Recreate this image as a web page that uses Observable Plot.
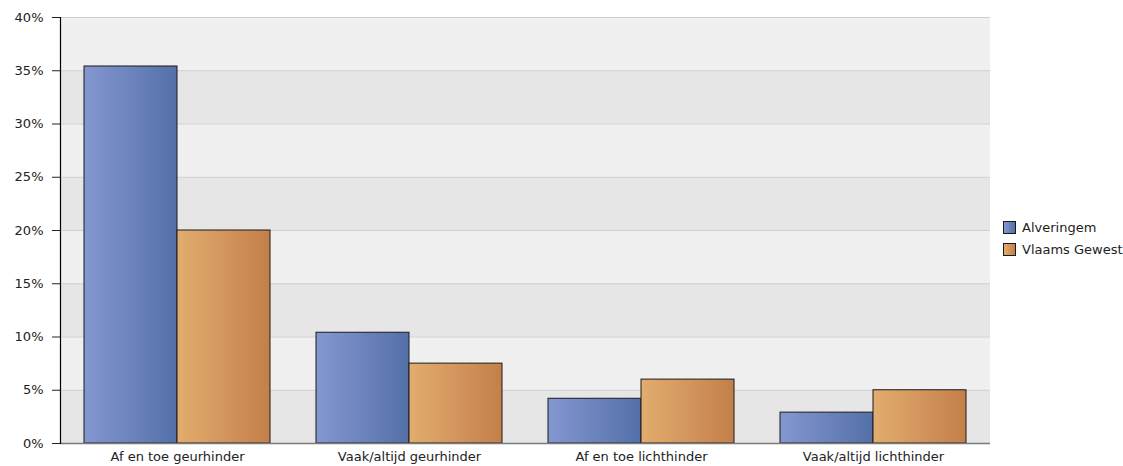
<!DOCTYPE html>
<html>
<head>
<meta charset="utf-8">
<script src="https://cdn.jsdelivr.net/npm/d3@7"></script>
<script src="https://cdn.jsdelivr.net/npm/@observablehq/plot@0.6"></script>
<style>
  html, body { margin: 0; padding: 0; background: #fff; }
  #wrap { position: relative; width: 1123px; height: 466px; font-family: "DejaVu Sans", sans-serif; }
  #wrap svg text { font-size: 13px; }
  .legend { position: absolute; left: 1003px; top: 216px; font-size: 13px; color: #222; }
  .legend .item { display: flex; align-items: center; height: 22px; }
  .legend .sw { width: 11px; height: 11px; border: 1.5px solid #1a1a1a; margin-right: 6px; }
</style>
</head>
<body>
<div id="wrap"></div>
<script>
const categories = ["Af en toe geurhinder", "Vaak/altijd geurhinder", "Af en toe lichthinder", "Vaak/altijd lichthinder"];
const series = ["Alveringem", "Vlaams Gewest"];
const alveringem = [35.4, 10.4, 4.2, 2.9];
const vlaamsGewest = [20.0, 7.5, 6.0, 5.0];
const yTicks = [0, 5, 10, 15, 20, 25, 30, 35, 40];

const gradients = {
  "Alveringem": ["gradA", "#8497d1", "#5470a8"],
  "Vlaams Gewest": ["gradB", "#e2ad6f", "#c47f49"]
};

const rows = [];
categories.forEach((c, i) => {
  rows.push({category: c, series: series[0], value: alveringem[i]});
  rows.push({category: c, series: series[1], value: vlaamsGewest[i]});
});

const bands = yTicks.slice(0, -1).map((t, i) => ({y1: t, y2: yTicks[i + 1], fill: i % 2 === 0 ? "#e6e6e6" : "#f0f0f0"}));

const halfInset = 93;

const chart = Plot.plot({
  width: 1123,
  height: 466,
  marginLeft: 60,
  marginRight: 133,
  marginTop: 17,
  marginBottom: 23,
  style: {fontFamily: "'DejaVu Sans', sans-serif", fontSize: "13px", color: "#222", background: "transparent"},
  x: {domain: categories, paddingInner: 0.2, paddingOuter: 0.1, label: null, tickSize: 0, tickPadding: 8},
  y: {domain: [0, 40], ticks: yTicks, tickFormat: d => d + "%", label: null, tickSize: 8, tickPadding: 9},
  marks: [
    Plot.rect(bands, {y1: "y1", y2: "y2", fill: "fill"}),
    Plot.ruleY(yTicks.slice(1), {stroke: "#cfcfcf"}),
    Plot.barY(rows.filter(d => d.series === series[0]), {x: "category", y: "value", fill: "url(#gradA)", stroke: "#1a1a1a", strokeWidth: 1, insetRight: halfInset}),
    Plot.barY(rows.filter(d => d.series === series[1]), {x: "category", y: "value", fill: "url(#gradB)", stroke: "#1a1a1a", strokeWidth: 1, insetLeft: halfInset}),
    Plot.ruleY([0], {stroke: "#7a7a7a", strokeWidth: 1.5}),
    Plot.frame({anchor: "left", stroke: "#000", strokeWidth: 1.2})
  ]
});

const svg = d3.select(chart);
const defs = svg.insert("defs", ":first-child");
Object.values(gradients).forEach(([id, c0, c1]) => {
  const g = defs.append("linearGradient").attr("id", id).attr("x1", "0%").attr("x2", "100%").attr("y1", "0%").attr("y2", "0%");
  g.append("stop").attr("offset", "0%").attr("stop-color", c0);
  g.append("stop").attr("offset", "100%").attr("stop-color", c1);
});

const wrap = document.getElementById("wrap");
wrap.appendChild(chart);

const legend = document.createElement("div");
legend.className = "legend";
series.forEach(s => {
  const [, c0, c1] = gradients[s];
  const item = document.createElement("div");
  item.className = "item";
  const sw = document.createElement("div");
  sw.className = "sw";
  sw.style.background = `linear-gradient(to right, ${c0}, ${c1})`;
  const lab = document.createElement("span");
  lab.textContent = s;
  item.appendChild(sw);
  item.appendChild(lab);
  legend.appendChild(item);
});
wrap.appendChild(legend);
</script>
</body>
</html>
